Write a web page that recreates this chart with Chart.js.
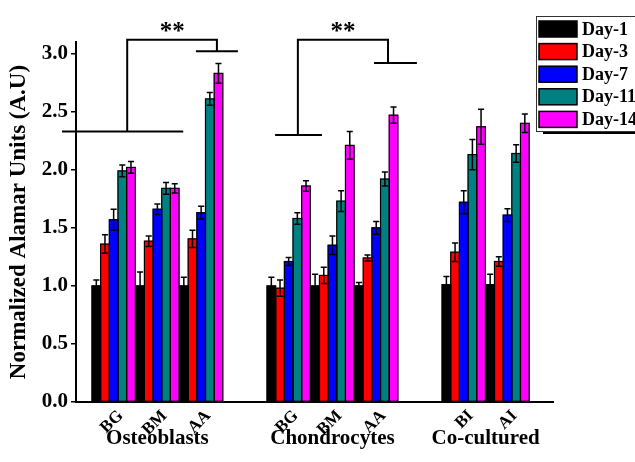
<!DOCTYPE html>
<html><head><meta charset="utf-8">
<script src="https://cdn.jsdelivr.net/npm/chart.js@4.4.0/dist/chart.umd.min.js"></script>
<style>html,body{margin:0;padding:0;background:#fff;overflow:hidden}#wrap{width:635px;height:462px;position:relative}</style>
</head><body><div id="wrap"><canvas id="c" width="635" height="462" style="width:635px;height:462px"></canvas></div>
<script>
// ---- data ----
const categories = ['BG', 'BM', 'AA', '', 'BG', 'BM', 'AA', '', 'BI', 'AI'];
const seriesNames = ['Day-1', 'Day-3', 'Day-7', 'Day-11', 'Day-14'];
const day1   = [1.00, 1.00, 1.00, null, 1.00, 1.00, 1.00, null, 1.01, 1.01];
const day1Err= [0.05, 0.12, 0.075, null, 0.075, 0.10, 0.03, null, 0.07, 0.09];
const day3   = [1.36, 1.385, 1.405, null, 0.98, 1.09, 1.24, null, 1.29, 1.21];
const day3Err= [0.08, 0.045, 0.075, null, 0.07, 0.07, 0.025, null, 0.08, 0.04];
const day7   = [1.57, 1.66, 1.63, null, 1.21, 1.35, 1.50, null, 1.72, 1.61];
const day7Err= [0.09, 0.045, 0.055, null, 0.035, 0.08, 0.055, null, 0.10, 0.055];
const day11  = [1.99, 1.84, 2.61, null, 1.58, 1.73, 1.92, null, 2.13, 2.14];
const day11Err=[0.05, 0.05, 0.055, null, 0.05, 0.09, 0.06, null, 0.13, 0.075];
const day14  = [2.02, 1.84, 2.83, null, 1.86, 2.21, 2.47, null, 2.37, 2.40];
const day14Err=[0.05, 0.04, 0.085, null, 0.045, 0.12, 0.07, null, 0.15, 0.08];
const yTickValues = [0, 0.5, 1.0, 1.5, 2.0, 2.5, 3.0];
const groupNames = ['Osteoblasts', 'Chondrocytes', 'Co-cultured'];
const groupMembers = [[0, 1, 2], [4, 5, 6], [8, 9]];
const yTitle = 'Normalized Alamar Units (A.U)';
const sigLabel = '**';

// ---- styles ----
const colors = ['#000000', '#ff0000', '#0000ff', '#008080', '#ff00ff'];
const SERIF = "'Liberation Serif','Times New Roman',serif";

// significance brackets, in (category index, value) coordinates
const brackets = [
  {base: [-1.18, 1.59, 2.33], stem: 0.31, top: 3.12, right: 2.36, drop: 3.02, cap: [1.88, 2.84], star: [1.34, 3.22]},
  {base: [3.69, 4.76, 2.30], stem: 4.21, top: 3.12, right: 6.27, drop: 2.92, cap: [5.95, 6.93], star: [5.24, 3.22]}
];

const values = [day1, day3, day7, day11, day14];
const errs = [day1Err, day3Err, day7Err, day11Err, day14Err];

const datasets = seriesNames.map((name, s) => {
  const pts = [], e = [];
  values[s].forEach((v, i) => { if (v !== null) { pts.push({x: i, y: v}); e.push(errs[s][i]); } });
  return {label: name, data: pts, errors: e, backgroundColor: colors[s], borderWidth: 0,
          inflateAmount: 0.4, categoryPercentage: 0.99, barPercentage: 1.0};
});

const errorBars = {
  id: 'errorBars',
  afterDatasetsDraw(chart) {
    const ctx = chart.ctx, y = chart.scales.y;
    ctx.save();
    ctx.strokeStyle = '#000';
    // bar outlines
    ctx.lineWidth = 1.2;
    chart.data.datasets.forEach((ds, di) => {
      chart.getDatasetMeta(di).data.forEach(el => {
        ctx.strokeRect(el.x - el.width / 2, el.y, el.width, el.base - el.y);
      });
    });
    // error bars
    ctx.lineWidth = 1.5;
    chart.data.datasets.forEach((ds, di) => {
      const meta = chart.getDatasetMeta(di);
      meta.data.forEach((el, j) => {
        const v = ds.data[j].y, e = ds.errors[j];
        const x = el.x, hw = el.width * 0.35;
        const yt = y.getPixelForValue(v + e), yb = y.getPixelForValue(v - e);
        ctx.beginPath();
        ctx.moveTo(x, yb); ctx.lineTo(x, yt);
        ctx.moveTo(x - hw, yt); ctx.lineTo(x + hw, yt);
        ctx.moveTo(x - hw, yb); ctx.lineTo(x + hw, yb);
        ctx.stroke();
      });
    });
    ctx.restore();
  }
};

const annotations = {
  id: 'annotations',
  afterDraw(chart) {
    const ctx = chart.ctx, xs = chart.scales.x, ys = chart.scales.y;
    const X = v => xs.getPixelForValue(v), Y = v => ys.getPixelForValue(v);
    ctx.save();
    ctx.strokeStyle = '#000';
    ctx.lineWidth = 2;
    brackets.forEach(b => {
      ctx.beginPath();
      ctx.moveTo(X(b.base[0]), Y(b.base[2])); ctx.lineTo(X(b.base[1]), Y(b.base[2]));
      ctx.moveTo(X(b.stem), Y(b.base[2])); ctx.lineTo(X(b.stem), Y(b.top));
      ctx.lineTo(X(b.right), Y(b.top)); ctx.lineTo(X(b.right), Y(b.drop));
      ctx.moveTo(X(b.cap[0]), Y(b.drop)); ctx.lineTo(X(b.cap[1]), Y(b.drop));
      ctx.stroke();
      ctx.fillStyle = '#000';
      ctx.font = 'bold 25px ' + SERIF;
      ctx.textAlign = 'center';
      ctx.textBaseline = 'middle';
      ctx.fillText(sigLabel, X(b.star[0]), Y(b.star[1]) + 4);
    });
    // group labels
    ctx.font = 'bold 21px ' + SERIF;
    ctx.textAlign = 'center';
    ctx.textBaseline = 'middle';
    groupNames.forEach((g, k) => {
      const m = groupMembers[k];
      const c = (m[0] + m[m.length - 1]) / 2;
      ctx.fillText(g, X(c), 439);
    });
    // legend
    const lx = 536, ly = 16, lh = 115;
    ctx.fillStyle = '#000';
    ctx.fillRect(543, ly + lh, 100, 3);
    ctx.fillStyle = '#fff';
    ctx.fillRect(lx, ly, 110, lh);
    ctx.lineWidth = 1;
    ctx.strokeStyle = '#333';
    ctx.strokeRect(lx + 0.5, ly + 0.5, 110, lh);
    ctx.font = 'bold 18px ' + SERIF;
    ctx.textAlign = 'left';
    ctx.textBaseline = 'middle';
    chart.data.datasets.forEach((ds, i) => {
      const cy = 29 + i * 22.6;
      ctx.fillStyle = ds.backgroundColor;
      ctx.fillRect(539, cy - 8, 38, 16);
      ctx.lineWidth = 1.5;
      ctx.strokeStyle = '#000';
      ctx.strokeRect(539, cy - 8, 38, 16);
      ctx.fillStyle = '#000';
      ctx.fillText(ds.label, 582, cy + 1);
    });
    ctx.restore();
  }
};

new Chart(document.getElementById('c'), {
  type: 'bar',
  data: {datasets},
  options: {
    responsive: false,
    animation: false,
    devicePixelRatio: 1,
    layout: {padding: {top: 42, right: 82, left: 0, bottom: 0}},
    plugins: {legend: {display: false}, tooltip: {enabled: false}},
    scales: {
      x: {
        type: 'linear',
        min: -0.86, max: 10.04,
        offset: false,
        grid: {display: false},
        border: {display: true, color: '#000', width: 2},
        afterBuildTicks: a => { a.ticks = categories.map((c, i) => ({value: i})); },
        afterFit: a => { a.height = 60; },
        ticks: {
          autoSkip: false, minRotation: 45, maxRotation: 45, padding: -4, labelOffset: 7,
          color: '#000', font: {family: SERIF, weight: 'bold', size: 17},
          callback: v => categories[v] ?? ''
        }
      },
      y: {
        min: 0, max: 3.1,
        grid: {display: true, drawOnChartArea: false, drawTicks: true, tickLength: 5, color: '#000', lineWidth: 1.5},
        border: {display: true, color: '#000', width: 2},
        afterBuildTicks: a => { a.ticks = yTickValues.map(v => ({value: v})); },
        afterFit: a => { a.width = 76; },
        ticks: {padding: 3, color: '#000', font: {family: SERIF, weight: 'bold', size: 21}, callback: v => v.toFixed(1)},
        title: {display: true, text: yTitle, color: '#000', padding: {top: 5, bottom: 0},
                font: {family: SERIF, weight: 'bold', size: 23}}
      }
    }
  },
  plugins: [errorBars, annotations]
});
</script></body></html>
